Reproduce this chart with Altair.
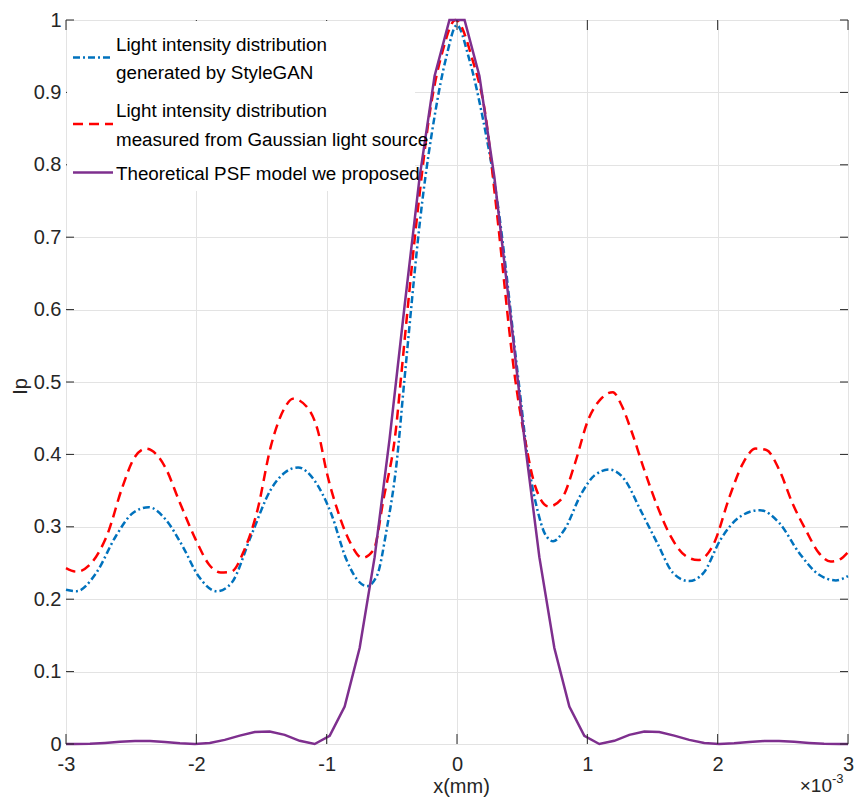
import altair as alt
import pandas as pd

# ---------------- data (x in units of 1e-3 mm) ----------------
x_ticks = [-3, -2, -1, 0, 1, 2, 3]
y_ticks = [0, 0.1, 0.2, 0.3, 0.4, 0.5, 0.6, 0.7, 0.8, 0.9, 1]

stylegan_x = [-3.0, -2.92, -2.769, -2.618, -2.487, -2.366, -2.235, -2.105, -1.984, -1.843,
              -1.732, -1.581, -1.43, -1.32, -1.219, -1.098, -0.967, -0.847, -0.766, -0.691,
              -0.615, -0.54, -0.464, -0.404, -0.266, -0.172, -0.082, -0.001, 0.089, 0.195,
              0.309, 0.472, 0.552, 0.623, 0.673, 0.738, 0.824, 0.955, 1.055, 1.166,
              1.287, 1.408, 1.538, 1.659, 1.78, 1.89, 2.021, 2.172, 2.323, 2.474,
              2.625, 2.776, 2.907, 3.0]
stylegan_y = [0.213, 0.211, 0.236, 0.287, 0.319, 0.327, 0.310, 0.273, 0.232, 0.211,
              0.222, 0.287, 0.351, 0.375, 0.382, 0.365, 0.319, 0.254, 0.227, 0.218,
              0.232, 0.296, 0.387, 0.502, 0.750, 0.867, 0.949, 0.993, 0.949, 0.867,
              0.750, 0.502, 0.383, 0.319, 0.291, 0.280, 0.296, 0.346, 0.371, 0.379,
              0.365, 0.323, 0.277, 0.236, 0.225, 0.236, 0.282, 0.314, 0.323, 0.305,
              0.264, 0.234, 0.226, 0.232]

gauss_x = [-3.0, -2.92, -2.688, -2.567, -2.477, -2.386, -2.306, -2.235, -2.135, -2.004,
           -1.903, -1.813, -1.732, -1.632, -1.531, -1.43, -1.32, -1.259, -1.149, -1.068,
           -0.998, -0.917, -0.816, -0.726, -0.64, -0.565, -0.464, -0.434, -0.293, -0.213,
           -0.109, -0.011, 0.119, 0.22, 0.296, 0.448, 0.522, 0.602, 0.703, 0.804,
           0.904, 1.005, 1.106, 1.196, 1.257, 1.337, 1.438, 1.538, 1.639, 1.76,
           1.85, 1.971, 2.092, 2.192, 2.293, 2.374, 2.474, 2.575, 2.675, 2.776,
           2.867, 2.927, 3.0]
gauss_y = [0.243, 0.238, 0.287, 0.355, 0.395, 0.408, 0.400, 0.381, 0.337, 0.282,
           0.248, 0.237, 0.238, 0.268, 0.323, 0.410, 0.465, 0.477, 0.465, 0.433,
           0.374, 0.323, 0.277, 0.257, 0.268, 0.337, 0.442, 0.498, 0.750, 0.867,
           0.958, 1.0, 0.945, 0.867, 0.750, 0.502, 0.420, 0.355, 0.328, 0.339,
           0.387, 0.447, 0.477, 0.486, 0.470, 0.433, 0.378, 0.328, 0.287, 0.259,
           0.254, 0.277, 0.342, 0.387, 0.408, 0.406, 0.378, 0.332, 0.296, 0.264,
           0.252, 0.254, 0.265]

psf_x = [-3.0, -2.931, -2.816, -2.701, -2.586, -2.471, -2.356, -2.241, -2.126, -2.011,
         -1.897, -1.782, -1.667, -1.552, -1.437, -1.322, -1.207, -1.092, -0.977, -0.862,
         -0.747, -0.632, -0.517, -0.402, -0.287, -0.172, -0.058,
         0.058, 0.172, 0.287, 0.402, 0.517, 0.632, 0.747, 0.862, 0.977, 1.092,
         1.207, 1.322, 1.437, 1.552, 1.667, 1.782, 1.897, 2.011, 2.126, 2.241,
         2.356, 2.471, 2.586, 2.701, 2.816, 2.931, 3.0]
psf_y = [0.0001, 0.0, 0.0004, 0.0015, 0.0030, 0.0041, 0.0040, 0.0027, 0.0009, 0.0,
         0.0014, 0.0057, 0.0116, 0.0165, 0.0173, 0.0126, 0.0044, 0.0, 0.0112, 0.0516,
         0.1325, 0.2581, 0.4217, 0.6053, 0.7826, 0.9226, 1.0,
         1.0, 0.9226, 0.7826, 0.6053, 0.4217, 0.2581, 0.1325, 0.0516, 0.0112, 0.0,
         0.0044, 0.0126, 0.0173, 0.0165, 0.0116, 0.0057, 0.0014, 0.0, 0.0009, 0.0027,
         0.0040, 0.0041, 0.0030, 0.0015, 0.0004, 0.0, 0.0001]

legend_lines = [
    "Light intensity distribution",
    "generated by StyleGAN",
    "Light intensity distribution",
    "measured from Gaussian light source",
    "Theoretical PSF model we proposed",
]

# ---------------- styling ----------------
W, H = 782, 724
FONT = "Liberation Sans"
AX = "#262626"
BLUE, RED, PURPLE = "#0072BD", "#FF0000", "#7E2F8E"
DASH_BLUE = [7, 3, 2, 3]
DASH_RED = [10, 6]

xs = alt.Scale(domain=[-3, 3], nice=False, zero=False)
ys = alt.Scale(domain=[0, 1], nice=False, zero=False)

x_axis = alt.Axis(values=x_ticks, title="x(mm)", labelExpr="'' + datum.value",
                  labelFontSize=20, labelFont=FONT, labelColor=AX, labelPadding=10,
                  labelFlush=False, ticks=False, domain=False, grid=True,
                  gridColor="#e3e3e3", gridWidth=1,
                  titleFont=FONT, titleFontSize=20, titleFontWeight="normal",
                  titleColor=AX, titleX=395, titleY=48, titleBaseline="alphabetic",
                  titleAlign="center")
y_axis = alt.Axis(values=y_ticks, title="Ip", labelExpr="'' + datum.value",
                  labelFontSize=20, labelFont=FONT, labelColor=AX, labelPadding=5,
                  labelFlush=False, ticks=False, domain=False, grid=True,
                  gridColor="#e3e3e3", gridWidth=1,
                  titleFont=FONT, titleFontSize=20, titleFontWeight="normal",
                  titleColor=AX, titleX=-46, titleY=366, titleAngle=270,
                  titleBaseline="middle", titleAlign="center")

df_blue = pd.DataFrame({"x": stylegan_x, "I": stylegan_y})
df_red = pd.DataFrame({"x": gauss_x, "I": gauss_y})
df_psf = pd.DataFrame({"x": psf_x, "I": psf_y})
df_xt = pd.DataFrame({"x": x_ticks})
df_yt = pd.DataFrame({"I": y_ticks})
one = pd.DataFrame({"k": [0]})

blue = alt.Chart(df_blue).mark_line(color=BLUE, strokeWidth=2.5, strokeDash=DASH_BLUE,
                                    interpolate="monotone").encode(
    x=alt.X("x:Q", scale=xs, axis=x_axis), y=alt.Y("I:Q", scale=ys, axis=y_axis))
red = alt.Chart(df_red).mark_line(color=RED, strokeWidth=2.5, strokeDash=DASH_RED,
                                  interpolate="monotone").encode(
    x=alt.X("x:Q", scale=xs), y=alt.Y("I:Q", scale=ys))
psf = alt.Chart(df_psf).mark_line(color=PURPLE, strokeWidth=2.5).encode(
    x=alt.X("x:Q", scale=xs), y=alt.Y("I:Q", scale=ys))

tick_bottom = alt.Chart(df_xt).mark_rule(color=AX, strokeWidth=1).encode(
    x=alt.X("x:Q", scale=xs), y=alt.value(H), y2=alt.value(H - 10))
tick_top = alt.Chart(df_xt).mark_rule(color=AX, strokeWidth=1).encode(
    x=alt.X("x:Q", scale=xs), y=alt.value(0), y2=alt.value(10))
tick_left = alt.Chart(df_yt).mark_rule(color=AX, strokeWidth=1).encode(
    y=alt.Y("I:Q", scale=ys), x=alt.value(0), x2=alt.value(8))
tick_right = alt.Chart(df_yt).mark_rule(color=AX, strokeWidth=1).encode(
    y=alt.Y("I:Q", scale=ys), x=alt.value(W), x2=alt.value(W - 8))

leg_bg = alt.Chart(one).mark_rect(color="white").encode(
    x=alt.value(1), x2=alt.value(349), y=alt.value(1), y2=alt.value(171))
leg_sym = [
    alt.Chart(one).mark_rule(color=BLUE, strokeWidth=2.5, strokeDash=DASH_BLUE).encode(
        x=alt.value(7), x2=alt.value(47), y=alt.value(37.5)),
    alt.Chart(one).mark_rule(color=RED, strokeWidth=2.5, strokeDash=DASH_RED).encode(
        x=alt.value(7), x2=alt.value(47), y=alt.value(104)),
    alt.Chart(one).mark_rule(color=PURPLE, strokeWidth=2.5).encode(
        x=alt.value(7), x2=alt.value(47), y=alt.value(152.5)),
]
baselines = [30.7, 59, 96.7, 125.5, 160]
leg_txt = [
    alt.Chart(one).mark_text(text=t, align="left", baseline="alphabetic", font=FONT,
                             fontSize=18.8, color="black").encode(
        x=alt.value(50), y=alt.value(b))
    for t, b in zip(legend_lines, baselines)
]

exp_base = alt.Chart(one).mark_text(text="×10", align="right", baseline="alphabetic",
                                    font=FONT, fontSize=19, color=AX).encode(
    x=alt.value(766), y=alt.value(772))
exp_sup = alt.Chart(one).mark_text(text="-3", align="right", baseline="alphabetic",
                                   font=FONT, fontSize=13, color=AX).encode(
    x=alt.value(777.5), y=alt.value(763))

chart = alt.layer(
    blue, red, psf, tick_bottom, tick_top, tick_left, tick_right,
    leg_bg, *leg_sym, *leg_txt, exp_base, exp_sup
).properties(
    width=W, height=H,
    padding={"left": 58, "top": 12, "right": 6, "bottom": 56},
    autosize=alt.AutoSizeParams(type="none"),
    background="white",
).configure_view(
    stroke=AX, strokeWidth=1
).configure(font=FONT)

chart.save("out.html", embed_options={"renderer": "svg", "actions": False})
